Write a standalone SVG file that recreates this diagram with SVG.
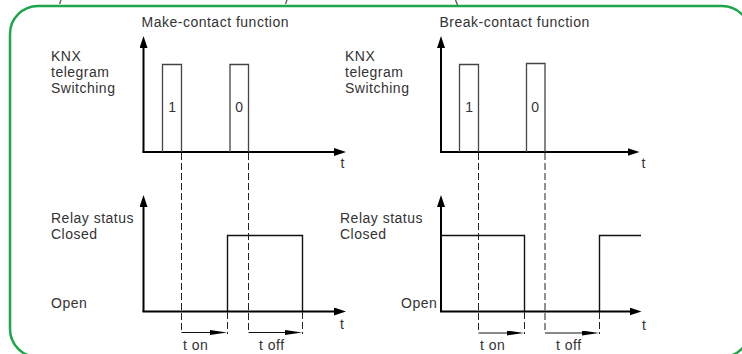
<svg xmlns="http://www.w3.org/2000/svg" width="742" height="354" viewBox="0 0 742 354">
<style>
  text { font-family: "Liberation Sans", Arial, sans-serif; font-size: 14px; fill: #333; letter-spacing: 0.5px; }
  .mid { text-anchor: middle; }
  .axis { stroke: #000; stroke-width: 2; fill: none; }
  .pulse { stroke: #444; stroke-width: 1.3; fill: none; }
  .relay { stroke: #111; stroke-width: 1.4; fill: none; }
  .dash { stroke: #222; stroke-width: 1; stroke-dasharray: 7 3; fill: none; }
  .dur { stroke: #111; stroke-width: 1; fill: none; }
  .frag { stroke: #555; stroke-width: 1.3; fill: none; }
</style>
<defs>
  <marker id="ax" markerUnits="userSpaceOnUse" viewBox="0 0 12 8" markerWidth="12" markerHeight="8" refX="2" refY="4" orient="auto">
    <path d="M0,0 L12,4 L0,8 z" fill="#000"/>
  </marker>
  <marker id="du" markerUnits="userSpaceOnUse" viewBox="0 0 17 5" markerWidth="17" markerHeight="5" refX="2" refY="2.5" orient="auto">
    <path d="M0,0 L17,2.5 L0,5 z" fill="#000"/>
  </marker>
</defs>

<rect id="frame" x="10" y="6" width="740" height="351" rx="28" ry="28" fill="none" stroke="#1DA64A" stroke-width="2.5"/>

<g id="fragments">
  <line class="frag" x1="61" y1="0" x2="59.5" y2="4"/>
  <line class="frag" x1="287" y1="0" x2="285.5" y2="4"/>
  <line class="frag" x1="455.5" y1="0" x2="457.5" y2="5"/>
</g>

<g id="make-contact">
  <text x="141.5" y="27">Make-contact function</text>
  <g id="make-telegram">
    <text x="51" y="61">KNX</text>
    <text x="51" y="77">telegram</text>
    <text x="51" y="93">Switching</text>
    <line class="axis" x1="143.5" y1="152.5" x2="143.5" y2="46" marker-end="url(#ax)"/>
    <line class="axis" x1="142.5" y1="152" x2="336" y2="152" marker-end="url(#ax)"/>
    <text x="340.5" y="168">t</text>
    <polyline class="pulse" points="162.5,152 162.5,64.5 181.5,64.5 181.5,152"/>
    <polyline class="pulse" points="230,152 230,64.5 248.5,64.5 248.5,152"/>
    <text class="mid" x="172.5" y="112">1</text>
    <text class="mid" x="239.5" y="112">0</text>
  </g>
  <g id="make-relay">
    <text x="51" y="222.5">Relay status</text>
    <text x="51" y="238.5">Closed</text>
    <text x="51" y="308">Open</text>
    <line class="axis" x1="143.5" y1="312" x2="143.5" y2="205" marker-end="url(#ax)"/>
    <line class="axis" x1="142.5" y1="311.5" x2="336" y2="311.5" marker-end="url(#ax)"/>
    <text x="340" y="329">t</text>
    <polyline class="relay" points="227.5,311 227.5,235.5 302.5,235.5 302.5,311"/>
    <text x="183" y="349.5">t on</text>
    <text x="259" y="349.5">t off</text>
  </g>
</g>

<g id="break-contact">
  <text x="439.5" y="27">Break-contact function</text>
  <g id="break-telegram">
    <text x="345" y="61">KNX</text>
    <text x="345" y="77">telegram</text>
    <text x="345" y="93">Switching</text>
    <line class="axis" x1="441" y1="152.5" x2="441" y2="46" marker-end="url(#ax)"/>
    <line class="axis" x1="440" y1="152" x2="629.5" y2="152" marker-end="url(#ax)"/>
    <text x="641.5" y="168">t</text>
    <polyline class="pulse" points="459.5,152 459.5,64.5 478.5,64.5 478.5,152"/>
    <polyline class="pulse" points="526.5,152 526.5,63.5 545,63.5 545,152"/>
    <text class="mid" x="469.5" y="112">1</text>
    <text class="mid" x="535.5" y="112">0</text>
  </g>
  <g id="break-relay">
    <text x="340" y="222.5">Relay status</text>
    <text x="340" y="238.5">Closed</text>
    <text x="401" y="308">Open</text>
    <line class="axis" x1="441" y1="312" x2="441" y2="205" marker-end="url(#ax)"/>
    <line class="axis" x1="440" y1="311.5" x2="631.5" y2="311.5" marker-end="url(#ax)"/>
    <text x="642" y="329.5">t</text>
    <polyline class="relay" points="441,235.5 524.5,235.5 524.5,311"/>
    <polyline class="relay" points="599.5,311 599.5,235.5 641,235.5"/>
    <text x="480" y="349.5">t on</text>
    <text x="556" y="349.5">t off</text>
  </g>
</g>

<g id="connectors">
  <line class="dash" x1="181.5" y1="153" x2="181.5" y2="333"/>
  <line class="dash" x1="248.5" y1="153" x2="248.5" y2="333"/>
  <line class="dash" x1="227.5" y1="312" x2="227.5" y2="334"/>
  <line class="dash" x1="302.5" y1="312" x2="302.5" y2="334"/>
  <line class="dur" x1="181.5" y1="332.5" x2="212" y2="332.5" marker-end="url(#du)"/>
  <line class="dur" x1="248.5" y1="332.5" x2="287" y2="332.5" marker-end="url(#du)"/>
  <line class="dash" x1="478.5" y1="153" x2="478.5" y2="333"/>
  <line class="dash" x1="545" y1="153" x2="545" y2="333"/>
  <line class="dash" x1="524.5" y1="312" x2="524.5" y2="334"/>
  <line class="dash" x1="599.5" y1="312" x2="599.5" y2="334"/>
  <line class="dur" x1="478.5" y1="333" x2="509" y2="333" marker-end="url(#du)"/>
  <line class="dur" x1="545" y1="333" x2="584" y2="333" marker-end="url(#du)"/>
</g>
</svg>
